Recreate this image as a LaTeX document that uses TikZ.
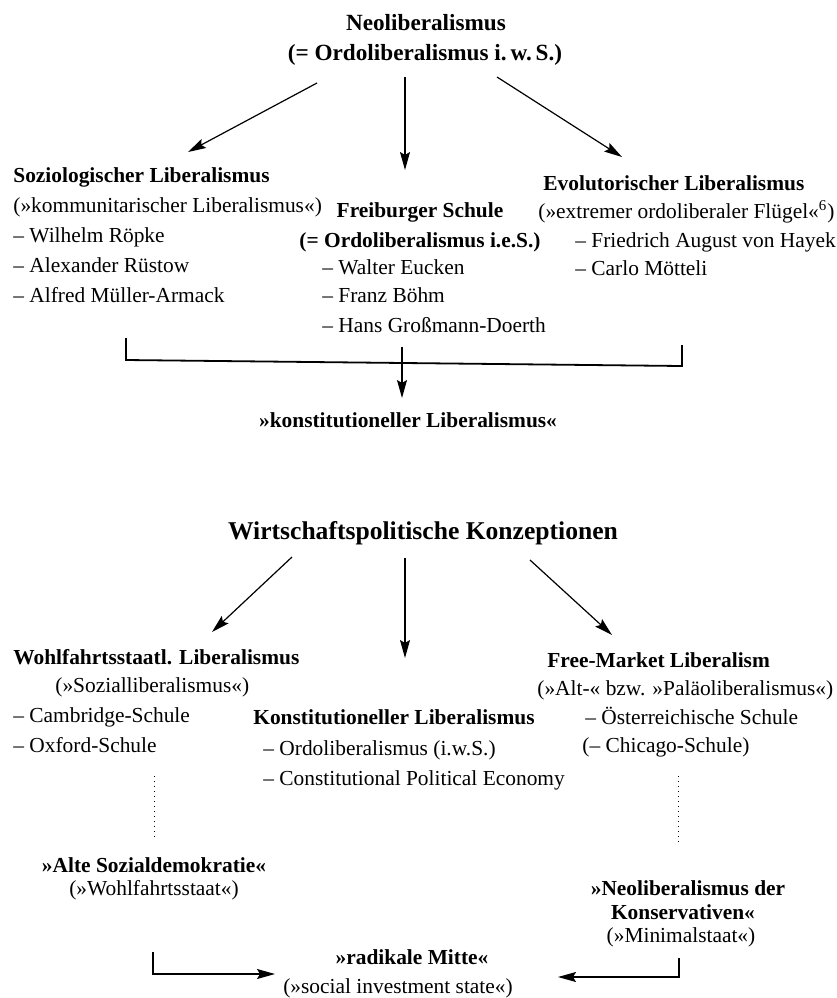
\documentclass[tikz,border=0pt]{standalone}
\usepackage{fontspec}
\setmainfont{Liberation Serif}
\usetikzlibrary{arrows.meta,calc}
\begin{document}
\begin{tikzpicture}[x=0.5pt,y=-0.5pt,
  txt/.style={inner sep=0pt,anchor=base west,font=\fontsize{10.7pt}{12pt}\selectfont},
  btxt/.style={txt,font=\fontsize{10.7pt}{12pt}\selectfont\bfseries},
  ctxt/.style={txt,anchor=base},
  cbtxt/.style={btxt,anchor=base},
  ttl/.style={inner sep=0pt,anchor=base,font=\fontsize{11.6pt}{13pt}\selectfont\bfseries},
  bigttl/.style={inner sep=0pt,anchor=base,font=\fontsize{12.8pt}{14pt}\selectfont\bfseries},
  arr/.style={line width=0.6pt,-{Stealth[length=9pt,width=5pt,inset=1.5pt]}},
  brk/.style={line width=0.9pt},
  dots/.style={line width=0.5pt,dotted}]
\useasboundingbox (0,0) rectangle (837,998);
% ---------- upper part ----------
\node[ttl] (neo) at (426,30) {Neoliberalismus};
\node[ttl] (neob) at (425,60) {(= Ordoliberalismus i.\,w.\,S.)};

\node[btxt] (soz) at (13,182) {Soziologischer Liberalismus};
\node[txt] (soz1) at (13,212) {(»kommunitarischer Liberalismus«)};
\node[txt] (soz2) at (13,242) {– Wilhelm Röpke};
\node[txt] (soz3) at (13,272) {– Alexander Rüstow};
\node[txt] (soz4) at (13,302) {– Alfred Müller-Armack};

\node[cbtxt] (frb) at (420,217) {Freiburger Schule};
\node[cbtxt] (frb1) at (420,247) {(= Ordoliberalismus i.e.S.)};
\node[txt] (frb2) at (322,274) {– Walter Eucken};
\node[txt] (frb3) at (322,302) {– Franz Böhm};
\node[txt] (frb4) at (322,332) {– Hans Großmann-Doerth};

\node[btxt] (evo) at (543,190) {Evolutorischer Liberalismus};
\node[txt] (evo1) at (538,218) {(»extremer ordoliberaler Flügel«\textsuperscript{6})};
\node[txt] (evo2) at (575,247) {– Friedrich August von Hayek};
\node[txt] (evo3) at (575,275) {– Carlo Mötteli};

\node[cbtxt] (kon) at (408,427) {»konstitutioneller Liberalismus«};

\coordinate (a1s) at (317,83);  \coordinate (a1e) at (188,152);
\coordinate (a2s) at (405,77);  \coordinate (a2e) at (405,170);
\coordinate (a3s) at (497,77);  \coordinate (a3e) at (622,157);
\draw[arr] (a1s) -- (a1e);
\draw[arr] (a2s) -- (a2e);
\draw[arr] (a3s) -- (a3e);

\coordinate (bl) at (126,338); \coordinate (bll) at (126,360);
\coordinate (brr) at (682,366); \coordinate (br) at (682,345);
\draw[brk] (bl) -- (bll) -- (brr) -- (br);
\coordinate (b4s) at (402,347); \coordinate (b4e) at (402,398);
\draw[arr] (b4s) -- (b4e);

% ---------- lower part ----------
\node[bigttl] (wpk) at (423,539) {Wirtschaftspolitische Konzeptionen};

\node[btxt] (wfl) at (13,664) {Wohlfahrtsstaatl. Liberalismus};
\node[txt] (wfl1) at (55,692) {(»Sozialliberalismus«)};
\node[txt] (wfl2) at (13,722) {– Cambridge-Schule};
\node[txt] (wfl3) at (13,752) {– Oxford-Schule};

\node[btxt] (kl) at (253,724) {Konstitutioneller Liberalismus};
\node[txt] (kl1) at (263,755) {– Ordoliberalismus (i.w.S.)};
\node[txt] (kl2) at (263,785) {– Constitutional Political Economy};

\node[btxt] (fml) at (547,667) {Free-Market Liberalism};
\node[txt] (fml1) at (537,695) {(»Alt-« bzw. »Paläoliberalismus«)};
\node[txt] (fml2) at (585,724) {– Österreichische Schule};
\node[txt] (fml3) at (582,752) {(– Chicago-Schule)};

\node[cbtxt] (asd) at (154,872) {»Alte Sozialdemokratie«};
\node[ctxt] (asd1) at (154,895) {(»Wohlfahrtsstaat«)};

\node[cbtxt] (nlk) at (688,895) {»Neoliberalismus der};
\node[cbtxt] (nlk1) at (683,919) {Konservativen«};
\node[ctxt] (nlk2) at (681,942) {(»Minimalstaat«)};

\node[cbtxt] (rm) at (412,964) {»radikale Mitte«};
\node[ctxt] (rm1) at (398,993) {(»social investment state«)};

\coordinate (c1s) at (292,557); \coordinate (c1e) at (212,632);
\coordinate (c2s) at (405,558); \coordinate (c2e) at (405,658);
\coordinate (c3s) at (530,560); \coordinate (c3e) at (612,635);
\draw[arr] (c1s) -- (c1e);
\draw[arr] (c2s) -- (c2e);
\draw[arr] (c3s) -- (c3e);

\coordinate (d1s) at (154,776); \coordinate (d1e) at (154,840);
\coordinate (d2s) at (678,776); \coordinate (d2e) at (678,843);
\draw[dots] (d1s) -- (d1e);
\draw[dots] (d2s) -- (d2e);

\coordinate (e1a) at (153,952); \coordinate (e1b) at (153,974); \coordinate (e1c) at (275,974);
\draw[brk] (e1a) -- (e1b) -- ($(e1c)+(-12,0)$);
\draw[arr] (e1b) -- (e1c);
\coordinate (e2a) at (679,958); \coordinate (e2b) at (679,977); \coordinate (e2c) at (558,977);
\draw[brk] (e2a) -- (e2b) -- ($(e2c)+(12,0)$);
\draw[arr] (e2b) -- (e2c);
\end{tikzpicture}
\end{document}
